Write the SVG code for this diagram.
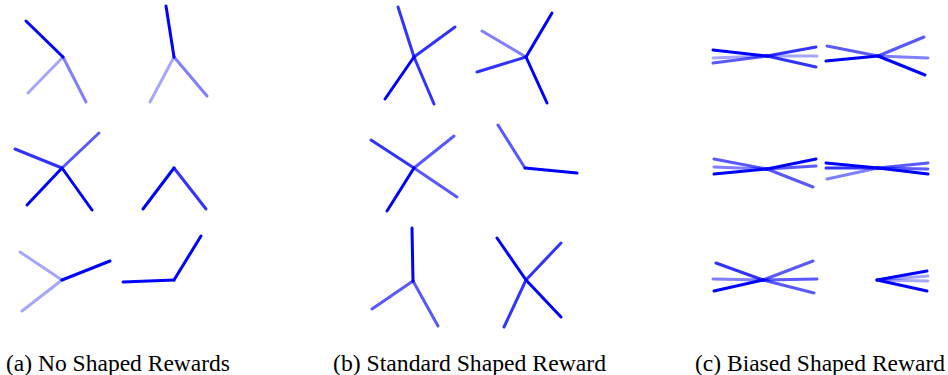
<svg xmlns="http://www.w3.org/2000/svg" width="948" height="375" viewBox="0 0 948 375">
<style>
line{stroke:#0000ff;stroke-width:3;stroke-linecap:round}
.a{stroke-opacity:1}.b{stroke-opacity:.8}.c{stroke-opacity:.65}.e{stroke-opacity:.5}.f{stroke-opacity:.35}
</style>
<rect width="948" height="375" fill="#fff"/>
<g id="a1"><line class="f" x1="63" y1="57" x2="28" y2="93"/><line class="e" x1="63" y1="57" x2="86" y2="102"/><line class="a" x1="63" y1="57" x2="26" y2="21"/></g>
<g id="a2"><line class="f" x1="174" y1="57" x2="150" y2="102"/><line class="e" x1="174" y1="57" x2="207" y2="96"/><line class="a" x1="174" y1="57" x2="166" y2="6"/></g>
<g id="a3"><line class="c" x1="62" y1="168" x2="99" y2="133"/><line class="b" x1="62" y1="168" x2="15" y2="149"/><line class="a" x1="62" y1="168" x2="27" y2="205"/><line class="a" x1="62" y1="168" x2="92" y2="210"/></g>
<g id="a4"><line class="b" x1="174" y1="168" x2="206" y2="209"/><line class="a" x1="174" y1="168" x2="143" y2="209"/></g>
<g id="a5"><line class="f" x1="62" y1="280" x2="20" y2="252"/><line class="f" x1="62" y1="280" x2="22" y2="311"/><line class="a" x1="62" y1="280" x2="110" y2="261"/></g>
<g id="a6"><line class="a" x1="174" y1="280" x2="123" y2="282"/><line class="a" x1="174" y1="280" x2="201" y2="236"/></g>
<g id="b1"><line class="b" x1="414" y1="57" x2="398" y2="7"/><line class="b" x1="414" y1="57" x2="455" y2="27"/><line class="b" x1="414" y1="57" x2="434" y2="104"/><line class="a" x1="414" y1="57" x2="385" y2="99"/></g>
<g id="b2"><line class="e" x1="526" y1="57" x2="482" y2="31"/><line class="b" x1="526" y1="57" x2="477" y2="72"/><line class="a" x1="526" y1="57" x2="552" y2="13"/><line class="a" x1="526" y1="57" x2="547" y2="103"/></g>
<g id="b3"><line class="c" x1="414" y1="168" x2="454" y2="136"/><line class="c" x1="414" y1="168" x2="457" y2="197"/><line class="b" x1="414" y1="168" x2="371" y2="140"/><line class="a" x1="414" y1="168" x2="387" y2="211"/></g>
<g id="b4"><line class="c" x1="525" y1="168" x2="498" y2="125"/><line class="a" x1="525" y1="168" x2="577" y2="173"/></g>
<g id="b5"><line class="c" x1="413" y1="281" x2="372" y2="309"/><line class="c" x1="413" y1="281" x2="438" y2="326"/><line class="a" x1="413" y1="281" x2="412" y2="228"/></g>
<g id="b6"><line class="b" x1="526" y1="280" x2="561" y2="243"/><line class="b" x1="526" y1="280" x2="504" y2="327"/><line class="a" x1="526" y1="280" x2="497" y2="238"/><line class="a" x1="526" y1="280" x2="561" y2="317"/></g>
<g id="c1"><line class="f" x1="767" y1="56" x2="713" y2="58"/><line class="f" x1="767" y1="56" x2="817" y2="56"/><line class="c" x1="767" y1="56" x2="713" y2="63"/><line class="b" x1="767" y1="56" x2="816" y2="67"/><line class="b" x1="767" y1="56" x2="816" y2="47"/><line class="a" x1="767" y1="56" x2="713" y2="50"/></g>
<g id="c2"><line class="e" x1="878" y1="56" x2="928" y2="58"/><line class="c" x1="878" y1="56" x2="827" y2="46"/><line class="c" x1="878" y1="56" x2="924" y2="37"/><line class="a" x1="878" y1="56" x2="826" y2="61"/><line class="a" x1="878" y1="56" x2="925" y2="75"/></g>
<g id="c3"><line class="e" x1="767" y1="169" x2="714" y2="167"/><line class="c" x1="767" y1="169" x2="816" y2="166"/><line class="c" x1="767" y1="169" x2="714" y2="159"/><line class="c" x1="767" y1="169" x2="813" y2="187"/><line class="a" x1="767" y1="169" x2="714" y2="174"/><line class="a" x1="767" y1="169" x2="816" y2="159"/></g>
<g id="c4"><line class="e" x1="878" y1="168" x2="827" y2="179"/><line class="c" x1="878" y1="168" x2="928" y2="163"/><line class="c" x1="878" y1="168" x2="928" y2="169"/><line class="b" x1="878" y1="168" x2="826" y2="168"/><line class="a" x1="878" y1="168" x2="826" y2="163"/><line class="a" x1="878" y1="168" x2="928" y2="174"/></g>
<g id="c5"><line class="e" x1="763" y1="280" x2="713" y2="279"/><line class="c" x1="763" y1="280" x2="814" y2="293"/><line class="c" x1="763" y1="280" x2="813" y2="261"/><line class="c" x1="763" y1="280" x2="817" y2="279"/><line class="b" x1="763" y1="280" x2="716" y2="263"/><line class="a" x1="763" y1="280" x2="714" y2="291"/></g>
<g id="c6"><line class="f" x1="877" y1="280" x2="928" y2="276"/><line class="f" x1="877" y1="280" x2="928" y2="281"/><line class="a" x1="877" y1="280" x2="927" y2="271"/><line class="a" x1="877" y1="280" x2="927" y2="291"/></g>
<g id="labels" font-family="'Liberation Serif', 'Times New Roman', 'DejaVu Serif', serif" font-size="23" fill="#000"><text x="6" y="371" textLength="224" lengthAdjust="spacingAndGlyphs">(a) No Shaped Rewards</text><text x="333" y="371" textLength="273" lengthAdjust="spacingAndGlyphs">(b) Standard Shaped Reward</text><text x="695" y="371" textLength="250" lengthAdjust="spacingAndGlyphs">(c) Biased Shaped Reward</text></g>
</svg>
